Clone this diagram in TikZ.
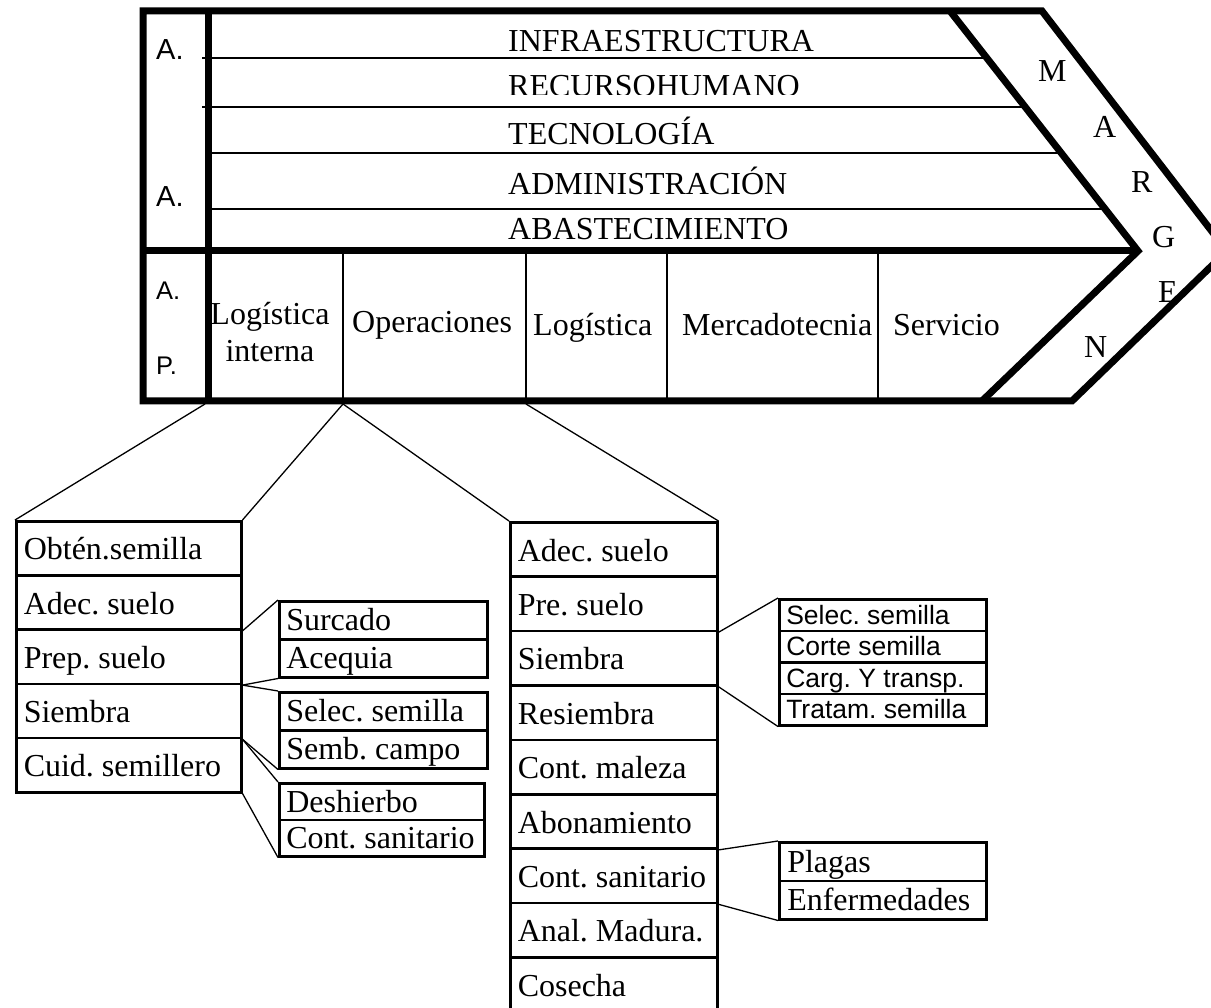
\documentclass[tikz,border=0pt]{standalone}
\usepackage{fontspec}
\setmainfont{Liberation Serif}
\newfontfamily\arialfont{Liberation Sans}
\newcommand\serifbig{\fontsize{32}{37}\selectfont}
\newcommand\sanslabel{\arialfont\fontsize{29}{34}\selectfont}
\newcommand\sanssmall{\arialfont\fontsize{25.5}{30}\selectfont}
\newcommand\sansbox{\arialfont\fontsize{26.5}{31}\selectfont}
\begin{document}
\frenchspacing
\begin{tikzpicture}[x=1pt,y=-1pt,
  heavy/.style={line width=7pt,line join=miter},
  rule/.style={line width=2pt},
  conn/.style={line width=1.3pt},
  lbl/.style={anchor=base west,inner sep=0pt,font=\serifbig},
  cellbase/.style={draw,line width=2.5pt,rectangle,anchor=north west,
    inner ysep=0pt,align=flush left},
  rowA/.style={cellbase,minimum width=225pt,text width=210pt,inner xsep=7.5pt,
    minimum height=54.2pt,text height=24pt,text depth=0.8pt,font=\serifbig},
  rowB/.style={cellbase,minimum width=207pt,text width=192pt,inner xsep=7.5pt,
    minimum height=54.4pt,text height=24pt,text depth=0.8pt,font=\serifbig},
  subbox/.style={cellbase,minimum width=#1,text width={#1-14pt},inner xsep=7pt,
    minimum height=38pt,text height=22pt,text depth=1pt,font=\serifbig},
  arialbox/.style={cellbase,minimum width=207pt,text width=193pt,inner xsep=7pt,
    minimum height=31.5pt,text height=19pt,text depth=1pt,font=\sansbox}]
\useasboundingbox (0,0) rectangle (1211,1008);

% --- value chain block: thin rules of the support activities ---
\draw[rule] (202,58) -- (986.8,58);
\draw[rule] (202,107) -- (1025.2,107);
\draw[rule] (208,153) -- (1061.2,153);
\draw[rule] (208,209) -- (1105.1,209);
% primary activity column separators
\foreach \x in {343,526,667,878} \draw[rule] (\x,251) -- (\x,404);

% heavy outline, chevron and dividers
\draw[heavy] (143,11) -- (1042,11) -- (1227,251) -- (1072,401) -- (143,401) -- cycle;
\draw[heavy] (950,11) -- (1138,251) -- (982,401);
\draw[heavy] (143,251) -- (1138,251);
\draw[heavy] (208,11) -- (208,404);

% support activity names
\node[lbl] (infra) at (508,52) {INFRAESTRUCTURA};
\begin{scope}
  \clip (300,60) rectangle (1000,94.5);
  \node[lbl] (rrhh) at (508,96.5) {RECURSOHUMANO};
\end{scope}
\node[lbl] (tec) at (508,145) {TECNOLOGÍA};
\node[lbl] (adm) at (508,195) {ADMINISTRACIÓN};
\node[lbl] (abas) at (508,240) {ABASTECIMIENTO};

% side labels
\node[lbl,font=\sanslabel] (sa1) at (156,60) {A.};
\node[lbl,font=\sanslabel] (sa2) at (156,207) {A.};
\node[lbl,font=\sanssmall] (pa1) at (156,300) {A.};
\node[lbl,font=\sanssmall] (pa2) at (156,375) {P.};

% primary activity names
\node[anchor=base,inner sep=0pt,font=\serifbig] (li1) at (270,325) {Logística};
\node[anchor=base,inner sep=0pt,font=\serifbig] (li2) at (270,362) {interna};
\node[lbl] (ope) at (352,333) {Operaciones};
\node[lbl] (lex) at (533,336) {Logística};
\node[lbl] (mer) at (682,336) {Mercadotecnia};
\node[lbl] (ser) at (893,336) {Servicio};

% margin letters
\node[lbl] (m1) at (1038,82) {M};
\node[lbl] (m2) at (1093,138) {A};
\node[lbl] (m3) at (1131,193) {R};
\node[lbl] (m4) at (1152,248) {G};
\node[lbl] (m5) at (1158,303) {E};
\node[lbl] (m6) at (1084,358) {N};

% --- inbound logistics breakdown ---
\foreach \t [count=\i] in {Obtén.semilla,Adec. suelo,Prep. suelo,Siembra,Cuid. semillero}
  \node[rowA] (a\i) at (15,{520+(\i-1)*54.2}) {\t};

\node[subbox=208pt] (s1) at (278,600) {Surcado};
\node[subbox=208pt] (s2) at (278,638) {Acequia};
\node[subbox=208pt] (t1) at (278,691) {Selec. semilla};
\node[subbox=208pt] (t2) at (278,729) {Semb. campo};
\node[subbox=205pt,minimum height=36.5pt] (u1) at (278,782) {Deshierbo};
\node[subbox=205pt,minimum height=36.5pt] (u2) at (278,818.5) {Cont. sanitario};

% --- operations breakdown ---
\foreach \t [count=\i] in {Adec. suelo,Pre. suelo,Siembra,Resiembra,Cont. maleza,Abonamiento,Cont. sanitario,Anal. Madura.,Cosecha}
  \node[rowB] (b\i) at (509,{521+(\i-1)*54.4}) {\t};

\node[arialbox] (r1) at (778,598) {Selec. semilla};
\node[arialbox] (r2) at (778,629.5) {Corte semilla};
\node[arialbox] (r3) at (778,661) {Carg. Y transp.};
\node[arialbox] (r4) at (778,692.5) {Tratam. semilla};

\node[subbox=207pt,minimum height=38.5pt,inner xsep=8pt,text width=191pt] (p1) at (778,841) {Plagas};
\node[subbox=207pt,minimum height=38.5pt,inner xsep=8pt,text width=191pt] (p2) at (778,879.5) {Enfermedades};

% --- connectors ---
\coordinate (pA) at (205,404);
\coordinate (pB) at (343,404);
\coordinate (pC) at (526,404);
\draw[conn] (pA) -- (a1.north west);
\draw[conn] (pB) -- (a1.north east);
\draw[conn] (pB) -- (b1.north west);
\draw[conn] (pC) -- (b1.north east);

\draw[conn] (a2.south east) -- (s1.north west);
\draw[conn] (a3.south east) -- (s2.south west);
\draw[conn] (a3.south east) -- (t1.north west);
\draw[conn] (a4.south east) -- (t2.south west);
\draw[conn] (a4.south east) -- (u1.north west);
\draw[conn] (a5.south east) -- (u2.south west);

\draw[conn] (b2.south east) -- (r1.north west);
\draw[conn] (b3.south east) -- (r4.south west);
\draw[conn] (b6.south east) -- (p1.north west);
\draw[conn] (b7.south east) -- (p2.south west);
\end{tikzpicture}
\end{document}
